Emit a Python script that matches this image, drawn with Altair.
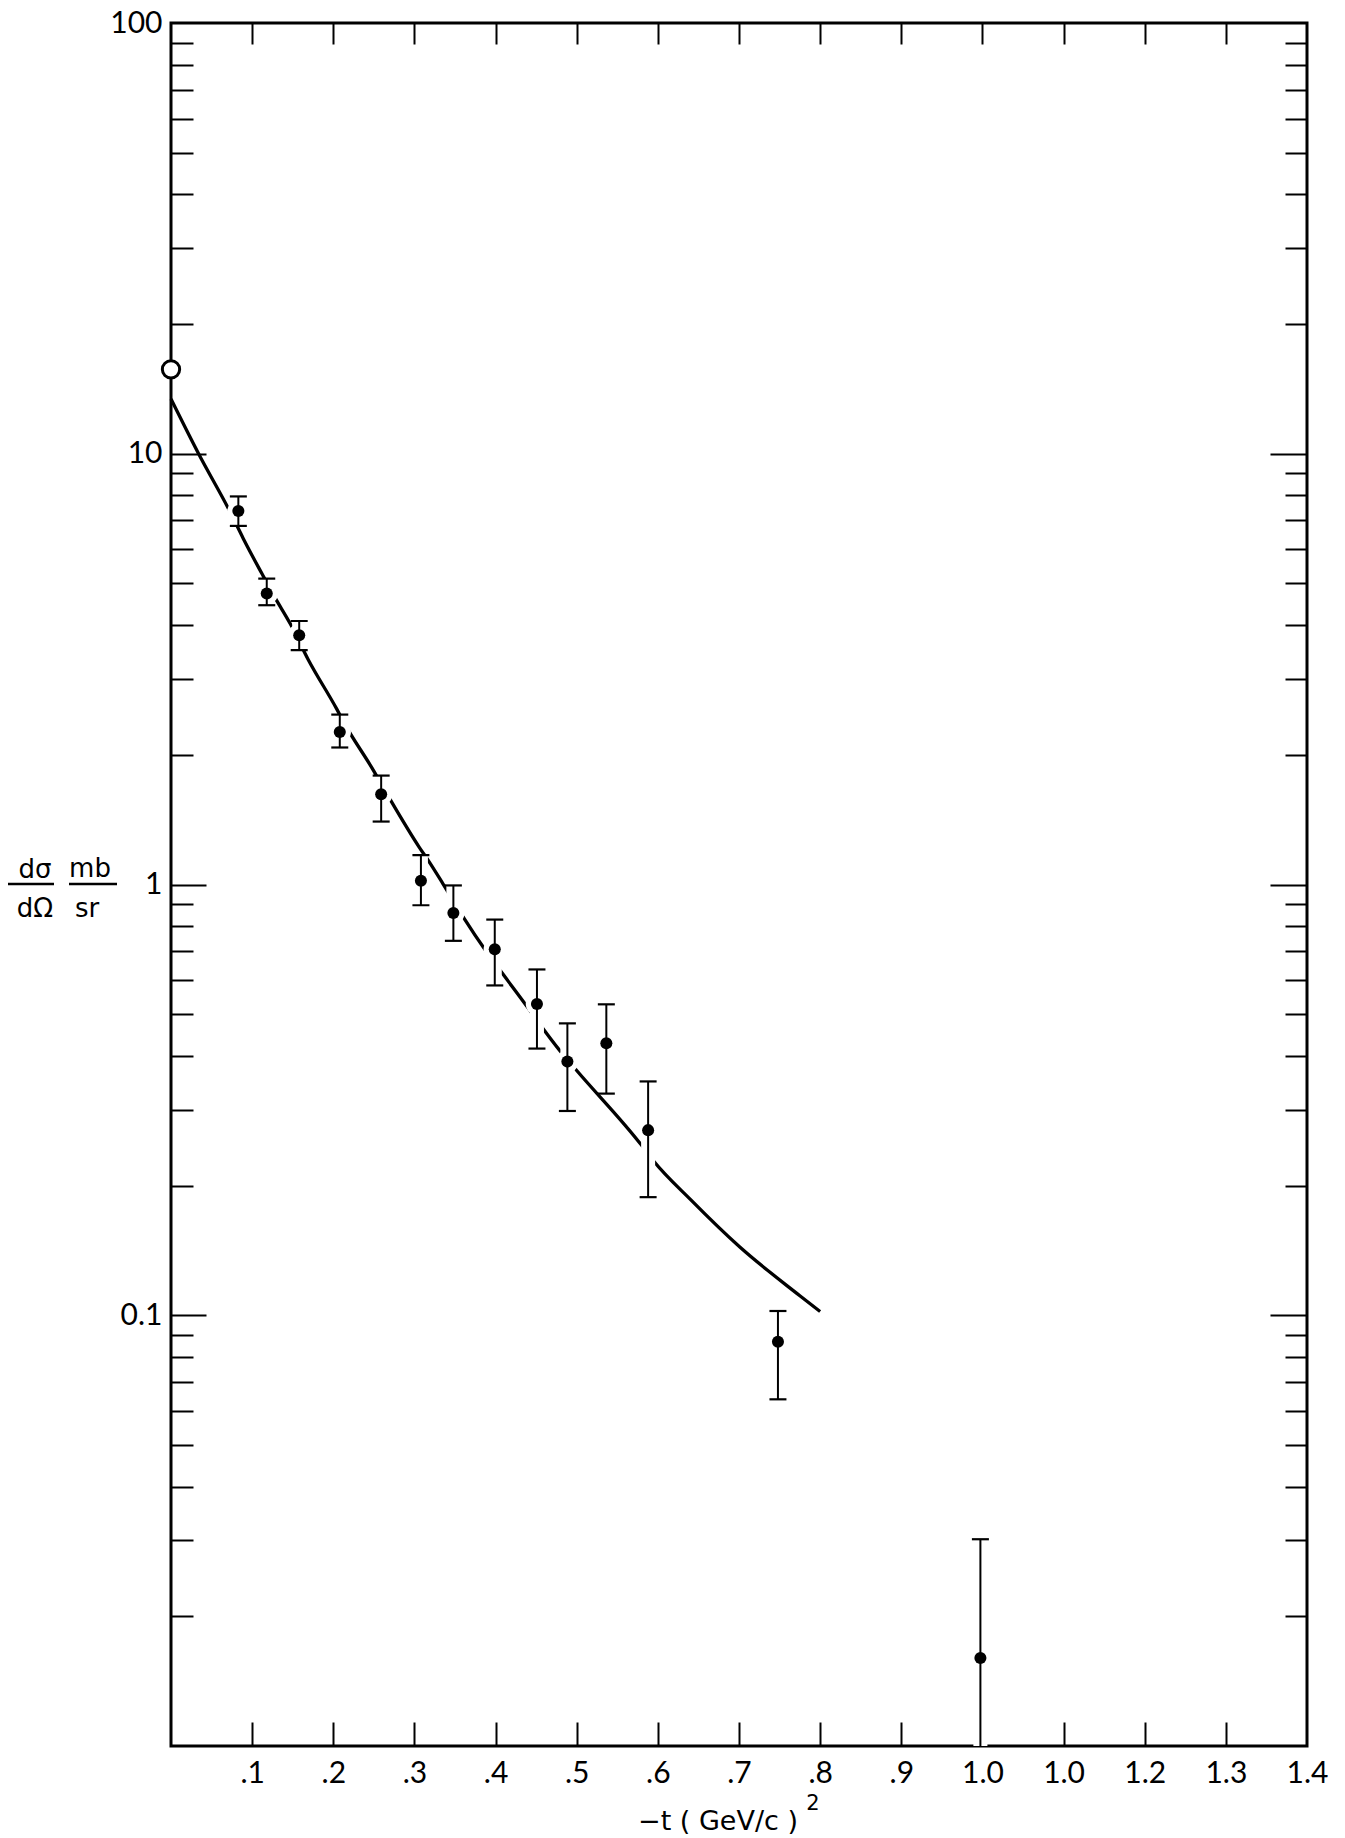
import altair as alt
import pandas as pd

# ---------------- data ----------------
t_pts = [0.083, 0.118, 0.158, 0.208, 0.259, 0.308, 0.348, 0.399, 0.451, 0.4885, 0.5365, 0.588, 0.748, 0.9975]
sig = [7.36, 4.74, 3.79, 2.26, 1.62, 1.02, 0.859, 0.707, 0.528, 0.388, 0.428, 0.269, 0.0868, 0.016]
sig_hi = [7.96, 5.13, 4.09, 2.48, 1.79, 1.17, 0.995, 0.829, 0.635, 0.476, 0.527, 0.349, 0.1023, 0.0302]
sig_lo = [6.80, 4.45, 3.50, 2.08, 1.40, 0.895, 0.74, 0.583, 0.416, 0.298, 0.327, 0.188, 0.0638, 0.01]

t_open = [0.0]
sig_open = [15.7]

curve_t = [0.0, 0.034, 0.073, 0.089, 0.112, 0.128, 0.147, 0.169, 0.204, 0.214, 0.248, 0.268,
           0.306, 0.318, 0.335, 0.360, 0.389, 0.407, 0.442, 0.457, 0.479, 0.500, 0.580, 0.594,
           0.641, 0.701, 0.775, 0.800]
curve_s = [13.4, 10.0, 7.32, 6.36, 5.27, 4.64, 4.03, 3.33, 2.56, 2.36, 1.86, 1.60,
           1.22, 1.13, 1.005, 0.841, 0.697, 0.627, 0.511, 0.467, 0.412, 0.370, 0.248, 0.229,
           0.185, 0.144, 0.111, 0.102]

x_tick_vals = [0.1, 0.2, 0.3, 0.4, 0.5, 0.6, 0.7, 0.8, 0.9, 1.0, 1.1, 1.2, 1.3, 1.4]
x_tick_labels = [".1", ".2", ".3", ".4", ".5", ".6", ".7", ".8", ".9", "1.0", "1.0", "1.2", "1.3", "1.4"]
y_major = [0.1, 1, 10, 100]
y_labels = ["0.1", "1", "10", "100"]
y_major_ticks = [0.1, 1, 10]
mantissas = [2, 3, 4, 5, 6, 7, 8, 9]
decades = [0.01, 0.1, 1, 10]
y_minor = [m * d for d in decades for m in mantissas]

y_title_num = ["dσ", "mb"]
y_title_den = ["dΩ", "sr"]
x_title = "−t ( GeV/c )"
x_title_sup = "2"

# ---------------- layout ----------------
W, H = 1136, 1723
FONT = "Lato"
TFONT = "DejaVu Sans"

df_pts = pd.DataFrame({"t": t_pts, "s": sig, "hi": sig_hi, "lo": sig_lo})
df_open = pd.DataFrame({"t": t_open, "s": sig_open})
df_curve = pd.DataFrame({"t": curve_t, "s": curve_s})
caps = pd.concat([
    pd.DataFrame({"t": t_pts, "v": sig_hi}),
    pd.DataFrame({"t": t_pts, "v": sig_lo})[[v > 0.0101 for v in sig_lo]],
])

xs = alt.Scale(domain=[0, 1.4], nice=False, zero=False)
ys = alt.Scale(type="log", domain=[0.01, 100], nice=False)

x_label_expr = "[" + ",".join(f"'{s}'" for s in x_tick_labels) + "][round(datum.value*10)-1]"
y_label_expr = "[" + ",".join(f"'{s}'" for s in y_labels) + "][round(log(datum.value)/LN10)+1]"

common = dict(grid=False, domain=False, title=None)

ax_x_labels = alt.Axis(orient="bottom", values=x_tick_vals, labelExpr=x_label_expr,
                       ticks=False, tickSize=0, labelPadding=12, labelFont=FONT,
                       labelFontSize=30, labelColor="black", labelFlush=False,
                       labelOverlap=False, **common)
ax_x_bottom_ticks = alt.Axis(orient="top", offset=-H, values=x_tick_vals[:-1], tickSize=24,
                             tickWidth=2, tickColor="black", labels=False, **common)
ax_x_top_ticks = alt.Axis(orient="bottom", offset=-H, values=x_tick_vals[:-1], tickSize=21,
                          tickWidth=2, tickColor="black", labels=False, **common)

ax_y_labels = alt.Axis(orient="left", values=y_major, labelExpr=y_label_expr, ticks=False,
                       tickSize=0, labelPadding=9, labelFont=FONT, labelFontSize=30,
                       labelColor="black", labelFlush=False, labelOverlap=False, **common)
ax_y_left_major = alt.Axis(orient="right", offset=-W, values=y_major_ticks, tickSize=35,
                           tickWidth=2, tickColor="black", labels=False, **common)
ax_y_left_minor = alt.Axis(orient="right", offset=-W, values=y_minor, tickSize=22,
                           tickWidth=2, tickColor="black", labels=False, **common)
ax_y_right_major = alt.Axis(orient="left", offset=-W, values=y_major_ticks, tickSize=37,
                            tickWidth=2, tickColor="black", labels=False, **common)
ax_y_right_minor = alt.Axis(orient="left", offset=-W, values=y_minor, tickSize=22,
                            tickWidth=2, tickColor="black", labels=False, **common)

curve = alt.Chart(df_curve).mark_line(color="black", strokeWidth=3.3, interpolate="monotone").encode(
    x=alt.X("t:Q", scale=xs, axis=ax_x_labels),
    y=alt.Y("s:Q", scale=ys, axis=ax_y_labels),
)

halo_rule = alt.Chart(df_pts).mark_rule(color="white", strokeWidth=14).encode(
    x=alt.X("t:Q", scale=xs, axis=ax_x_bottom_ticks),
    y=alt.Y("lo:Q", scale=ys, axis=ax_y_left_major),
    y2="hi:Q",
)

halo_pt = alt.Chart(df_pts).mark_circle(color="white", size=500, opacity=1).encode(
    x=alt.X("t:Q", scale=xs, axis=None),
    y=alt.Y("s:Q", scale=ys, axis=None),
)

err = alt.Chart(df_pts).mark_rule(color="black", strokeWidth=2).encode(
    x=alt.X("t:Q", scale=xs, axis=ax_x_top_ticks),
    y=alt.Y("lo:Q", scale=ys, axis=ax_y_left_minor),
    y2="hi:Q",
)

cap = alt.Chart(caps).mark_tick(orient="horizontal", size=17, thickness=2.2, color="black", opacity=1).encode(
    x=alt.X("t:Q", scale=xs, axis=None),
    y=alt.Y("v:Q", scale=ys, axis=ax_y_right_major),
)

pts = alt.Chart(df_pts).mark_circle(color="black", size=145, opacity=1).encode(
    x=alt.X("t:Q", scale=xs, axis=None),
    y=alt.Y("s:Q", scale=ys, axis=ax_y_right_minor),
)

open_pt = alt.Chart(df_open).mark_point(shape="circle", fill="white", fillOpacity=1, stroke="black",
                                        strokeWidth=3, size=300, opacity=1, filled=True).encode(
    x=alt.X("t:Q", scale=xs, axis=None),
    y=alt.Y("s:Q", scale=ys, axis=None),
)

one = alt.Data(values=[{}])


def txt(s, x, y, size=26, align="center"):
    return alt.Chart(one).mark_text(text=s, font=TFONT, fontSize=size, color="black",
                                    align=align, baseline="alphabetic").encode(
        x=alt.value(x), y=alt.value(y))


def bar(x1, x2, y):
    return alt.Chart(one).mark_rule(color="black", strokeWidth=2.7).encode(
        x=alt.value(x1), x2=alt.value(x2), y=alt.value(y))


titles = [
    txt(y_title_num[0], -136, 855),
    txt(y_title_den[0], -136, 894),
    txt(y_title_num[1], -81, 854),
    txt(y_title_den[1], -84, 894),
    bar(-164, -117, 861),
    bar(-102, -54, 861),
    txt(x_title, 547, 1807, size=27),
    txt(x_title_sup, 642, 1787, size=21),
]

chart = alt.layer(curve, halo_rule, halo_pt, err, cap, pts, open_pt, *titles).resolve_axis(
    x="independent", y="independent"
).properties(
    width=W, height=H,
    autosize=alt.AutoSizeParams(type="none"),
    padding={"left": 163, "top": 15, "right": 30, "bottom": 90},
    background="white",
).configure_view(stroke="black", strokeWidth=3)

chart.save("out.html", embed_options={"renderer": "svg", "actions": False})
